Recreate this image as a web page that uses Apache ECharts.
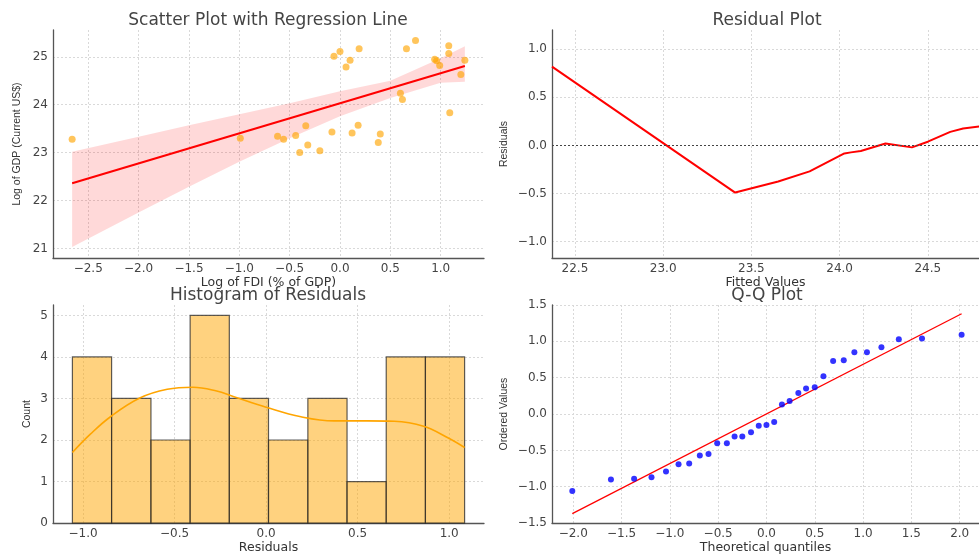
<!DOCTYPE html>
<html>
<head>
<meta charset="utf-8">
<script src="https://cdn.jsdelivr.net/npm/echarts@6/dist/echarts.min.js"></script>
<style>
html, body { margin:0; padding:0; background:#fff; }
#main { width:979px; height:555px; }
</style>
</head>
<body>
<div id="main"></div>
<script>
// scatter: log FDI vs log GDP
var fdiLog = [-2.66, -0.99, -0.62, -0.56, -0.44, -0.34, -0.32, -0.40, -0.20, -0.08, -0.06, 0.00, 0.06, 0.10, 0.12, 0.18,
              0.19, 0.38, 0.40, 0.60, 0.62, 0.66, 0.75, 0.94, 0.96, 0.99, 1.08, 1.08, 1.09, 1.20, 1.24];
var gdpLog = [23.28, 23.30, 23.34, 23.28, 23.36, 23.56, 23.16, 23.00, 23.04, 23.43, 25.01, 25.11, 24.79, 24.93, 23.41, 23.57,
              25.17, 23.21, 23.39, 24.24, 24.11, 25.17, 25.34, 24.95, 24.92, 24.82, 25.23, 25.07, 23.83, 24.63, 24.93];
// regression line and its confidence band
var regX = [-2.66, 1.24];
var regY = [22.36, 24.81];
var bandX = [-2.66, -2.0, -1.5, -1.0, -0.5, 0.0, 0.5, 1.0, 1.24];
var bandUpper = [23.02, 23.33, 23.57, 23.80, 24.03, 24.28, 24.50, 24.97, 25.22];
var bandLower = [21.03, 21.75, 22.29, 22.81, 23.30, 23.76, 24.14, 24.46, 24.48];
// residual plot (smoothed residuals vs fitted)
var fittedVals = [22.37, 23.408, 23.652, 23.83, 24.027, 24.064, 24.12, 24.26, 24.41, 24.50, 24.627, 24.70, 24.80];
var residSmooth = [0.82, -0.49, -0.374, -0.27, -0.083, -0.072, -0.058, 0.021, -0.02, 0.039, 0.141, 0.176, 0.20];
// histogram of residuals
var binEdges = [-1.058, -0.844, -0.629, -0.415, -0.201, 0.013, 0.228, 0.442, 0.656, 0.870, 1.084];
var binCounts = [4, 3, 2, 5, 3, 2, 3, 1, 4, 4];
var kdeX = [-1.058, -0.96, -0.85, -0.69, -0.54, -0.40, -0.27, -0.18, 0.0, 0.19, 0.37, 0.55, 0.70, 0.86, 0.99, 1.084];
var kdeY = [1.70, 2.14, 2.56, 3.01, 3.22, 3.27, 3.18, 3.05, 2.79, 2.56, 2.46, 2.46, 2.45, 2.33, 2.06, 1.82];
// Q-Q plot
var theoQ = [-2.01, -1.61, -1.37, -1.19, -1.04, -0.91, -0.80, -0.69, -0.60, -0.51, -0.41, -0.33, -0.25, -0.16, -0.08, 0.0,
             0.08, 0.16, 0.24, 0.33, 0.41, 0.50, 0.59, 0.69, 0.80, 0.91, 1.04, 1.19, 1.37, 1.61, 2.02];
var orderedVals = [-1.06, -0.90, -0.89, -0.87, -0.79, -0.69, -0.68, -0.57, -0.55, -0.40, -0.40, -0.31, -0.31, -0.25, -0.16, -0.15,
                   -0.11, 0.13, 0.18, 0.29, 0.35, 0.37, 0.52, 0.73, 0.74, 0.85, 0.85, 0.92, 1.03, 1.04, 1.09];
var qqLineX = [-2.01, 2.02];
var qqLineY = [-1.37, 1.38];
// tick values
var ticksFdi = [-2.5, -2.0, -1.5, -1.0, -0.5, 0.0, 0.5, 1.0];
var ticksGdp = [21, 22, 23, 24, 25];
var ticksFitted = [22.5, 23.0, 23.5, 24.0, 24.5];
var ticksResid = [-1.0, -0.5, 0.0, 0.5, 1.0];
var ticksCount = [0, 1, 2, 3, 4, 5];
var ticksTheo = [-2.0, -1.5, -1.0, -0.5, 0.0, 0.5, 1.0, 1.5, 2.0];
var ticksOrdered = [-1.5, -1.0, -0.5, 0.0, 0.5, 1.0, 1.5];

function zip(a, b){ var ls = []; for(var i=0; i<a.length; i++){ ls.push([a[i], b[i]]); } return ls; }
function fmt1(v){ return Number(v).toFixed(1).replace('-', '\u2212'); }
function fmt0(v){ return String(Math.round(v)).replace('-', '\u2212'); }

var tickFont = { fontFamily:'DejaVu Sans', fontSize:12, color:'#444' };
var xNameFont = { fontFamily:'DejaVu Sans', fontSize:12.5, color:'#333' };
var yNameFont = { fontFamily:'Liberation Sans', fontSize:10.5, color:'#333' };
var spine = { show:true, onZero:false, lineStyle:{ color:'#555', width:1.3 } };

function gridLines(ticks){
	return { show:true, customValues:ticks, lineStyle:{ color:'#d9d9d9', type:[2,2], width:1 } };
}
function xAx(idx, min, max, ticks, name, fmt){
	return { type:'value', gridIndex:idx, min:min, max:max,
		name:name, nameLocation:'middle', nameGap:16, nameTextStyle:xNameFont,
		axisLine:spine, axisTick:{ show:false, customValues:ticks }, splitLine:gridLines(ticks),
		axisLabel:Object.assign({ margin:5, formatter:fmt, customValues:ticks }, tickFont) };
}
function yAx(idx, min, max, ticks, name, gap, fmt){
	return { type:'value', gridIndex:idx, min:min, max:max,
		name:name, nameLocation:'middle', nameRotate:90, nameGap:gap, nameTextStyle:yNameFont,
		axisLine:spine, axisTick:{ show:false, customValues:ticks }, splitLine:gridLines(ticks),
		axisLabel:Object.assign({ margin:5, formatter:fmt, customValues:ticks }, tickFont) };
}
function ttl(text, left, top){
	return { text:text, left:left, top:top, textAlign:'center', padding:0,
		textStyle:{ fontFamily:'DejaVu Sans', fontSize:17, fontWeight:'normal', color:'#444' } };
}

var chart = echarts.init(document.getElementById('main'), null, { renderer:'canvas' });
chart.setOption({
	animation:false,
	backgroundColor:'#fff',
	title:[
		ttl('Scatter Plot with Regression Line', 268, 12),
		ttl('Residual Plot', 767, 12),
		ttl('Histogram of Residuals', 268, 287),
		ttl('Q-Q Plot', 767, 287)
	],
	grid:[
		{ left:53, top:30, width:431, height:228 },
		{ left:552, top:30, width:431, height:228 },
		{ left:53, top:305, width:431, height:228 },
		{ left:552, top:305, width:431, height:228 }
	],
	xAxis:[
		xAx(0, -2.85, 1.43, ticksFdi, 'Log of FDI (% of GDP)', fmt1),
		xAx(1, 22.37, 24.79, ticksFitted, 'Fitted Values', fmt1),
		xAx(2, -1.164, 1.19, ticksResid, 'Residuals', fmt1),
		xAx(3, -2.22, 2.2, ticksTheo, 'Theoretical quantiles', fmt1)
	],
	yAxis:[
		yAx(0, 20.8, 25.56, ticksGdp, 'Log of GDP (Current US$)', 30, fmt0),
		yAx(1, -1.17, 1.2, ticksResid, 'Residuals', 42, fmt1),
		yAx(2, 0, 5.25, ticksCount, 'Count', 20, fmt0),
		yAx(3, -1.5, 1.5, ticksOrdered, 'Ordered Values', 42, fmt1)
	],
	series:[
		{ type:'custom', xAxisIndex:0, yAxisIndex:0, silent:true, z:1, data:[[0, 22]],
		  renderItem:function(params, api){
			var pts = [], i;
			for(i=0; i<bandX.length; i++){ pts.push(api.coord([bandX[i], bandUpper[i]])); }
			for(i=bandX.length-1; i>=0; i--){ pts.push(api.coord([bandX[i], bandLower[i]])); }
			return { type:'polygon', shape:{ points:pts }, style:{ fill:'rgba(255,0,0,0.15)' } };
		  } },
		{ type:'line', xAxisIndex:0, yAxisIndex:0, data:zip(regX, regY), showSymbol:false, z:3,
		  lineStyle:{ color:'#ff0000', width:2 } },
		{ type:'scatter', xAxisIndex:0, yAxisIndex:0, data:zip(fdiLog, gdpLog), symbolSize:7, z:4,
		  itemStyle:{ color:'rgba(255,165,0,0.8)' } },
		{ type:'line', xAxisIndex:1, yAxisIndex:1, data:zip(fittedVals, residSmooth), showSymbol:false, z:3,
		  lineStyle:{ color:'#ff0000', width:2 },
		  markLine:{ silent:true, symbol:'none', label:{show:false},
			lineStyle:{ color:'#444', type:[2,2], width:1.2 }, data:[{ yAxis:0 }] } },
		{ type:'custom', xAxisIndex:2, yAxisIndex:2, z:2,
		  data:binCounts.map(function(c, i){ return [binEdges[i], binEdges[i+1], c]; }),
		  encode:{ x:[0,1], y:2 },
		  renderItem:function(params, api){
			var p0 = api.coord([api.value(0), 0]);
			var p1 = api.coord([api.value(1), api.value(2)]);
			return { type:'rect', shape:{ x:p0[0], y:p1[1], width:p1[0]-p0[0], height:p0[1]-p1[1] },
				style:{ fill:'rgba(255,165,0,0.5)', stroke:'rgba(40,40,40,0.75)', lineWidth:1.2 } };
		  } },
		{ type:'line', xAxisIndex:2, yAxisIndex:2, data:zip(kdeX, kdeY), smooth:0.4, showSymbol:false, z:3,
		  lineStyle:{ color:'#ffa500', width:1.6 } },
		{ type:'line', xAxisIndex:3, yAxisIndex:3, data:zip(qqLineX, qqLineY), showSymbol:false, z:3,
		  lineStyle:{ color:'#ff0000', width:1.3 } },
		{ type:'scatter', xAxisIndex:3, yAxisIndex:3, data:zip(theoQ, orderedVals), symbolSize:6, z:4,
		  itemStyle:{ color:'#0000ff' } }
	]
});
</script>
</body>
</html>
